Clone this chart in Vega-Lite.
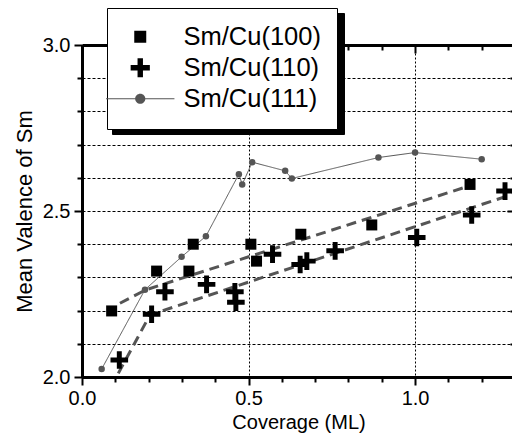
{
  "$schema": "https://vega.github.io/schema/vega-lite/v6.json",
  "width": 433,
  "height": 332,
  "autosize": {"type": "none"},
  "padding": {"left": 82, "top": 45, "right": 0, "bottom": 59},
  "background": "white",
  "config": {
    "view": {"stroke": null},
    "font": "Liberation Sans",
    "axis": {"labelFont": "Liberation Sans", "titleFont": "Liberation Sans", "titleFontWeight": "normal", "labelColor": "black", "titleColor": "black"},
    "legend": {"strokeWidth": 1}
  },
  "data": {
    "values": [
      {"s": "Sm/Cu(100)", "x": 0.089, "y": 2.199},
      {"s": "Sm/Cu(100)", "x": 0.224, "y": 2.319},
      {"s": "Sm/Cu(100)", "x": 0.321, "y": 2.319},
      {"s": "Sm/Cu(100)", "x": 0.334, "y": 2.4},
      {"s": "Sm/Cu(100)", "x": 0.507, "y": 2.4},
      {"s": "Sm/Cu(100)", "x": 0.524, "y": 2.349},
      {"s": "Sm/Cu(100)", "x": 0.657, "y": 2.43},
      {"s": "Sm/Cu(100)", "x": 0.87, "y": 2.458},
      {"s": "Sm/Cu(100)", "x": 1.165, "y": 2.58},
      {"s": "Sm/Cu(110)", "x": 0.112, "y": 2.051},
      {"s": "Sm/Cu(110)", "x": 0.209, "y": 2.189},
      {"s": "Sm/Cu(110)", "x": 0.249, "y": 2.257},
      {"s": "Sm/Cu(110)", "x": 0.374, "y": 2.279},
      {"s": "Sm/Cu(110)", "x": 0.459, "y": 2.257},
      {"s": "Sm/Cu(110)", "x": 0.462, "y": 2.225},
      {"s": "Sm/Cu(110)", "x": 0.572, "y": 2.37},
      {"s": "Sm/Cu(110)", "x": 0.655, "y": 2.339},
      {"s": "Sm/Cu(110)", "x": 0.675, "y": 2.349},
      {"s": "Sm/Cu(110)", "x": 0.76, "y": 2.38},
      {"s": "Sm/Cu(110)", "x": 1.005, "y": 2.42},
      {"s": "Sm/Cu(110)", "x": 1.17, "y": 2.488},
      {"s": "Sm/Cu(110)", "x": 1.27, "y": 2.56},
      {"s": "Sm/Cu(111)", "x": 0.059, "y": 2.024},
      {"s": "Sm/Cu(111)", "x": 0.189, "y": 2.263},
      {"s": "Sm/Cu(111)", "x": 0.299, "y": 2.362},
      {"s": "Sm/Cu(111)", "x": 0.372, "y": 2.424},
      {"s": "Sm/Cu(111)", "x": 0.471, "y": 2.611},
      {"s": "Sm/Cu(111)", "x": 0.481, "y": 2.58},
      {"s": "Sm/Cu(111)", "x": 0.511, "y": 2.647},
      {"s": "Sm/Cu(111)", "x": 0.61, "y": 2.621},
      {"s": "Sm/Cu(111)", "x": 0.63, "y": 2.598},
      {"s": "Sm/Cu(111)", "x": 0.89, "y": 2.661},
      {"s": "Sm/Cu(111)", "x": 1.0, "y": 2.676},
      {"s": "Sm/Cu(111)", "x": 1.2, "y": 2.656},
      {"s": "fit100", "x": 0.114, "y": 2.222},
      {"s": "fit100", "x": 0.19, "y": 2.262},
      {"s": "fit100", "x": 1.155, "y": 2.573},
      {"s": "fit110", "x": 0.109, "y": 2.011},
      {"s": "fit110", "x": 0.204, "y": 2.187},
      {"s": "fit110", "x": 1.3, "y": 2.553}
    ]
  },
  "layer": [
    {
      "transform": [{"filter": "datum.s == 'fit100' || datum.s == 'fit110'"}],
      "mark": {"type": "line", "color": "#555555", "strokeWidth": 3, "strokeDash": [10, 6]},
      "encoding": {
        "x": {
          "field": "x", "type": "quantitative",
          "scale": {"domain": [0, 1.3], "nice": false, "zero": false},
          "axis": {
            "orient": "top", "title": null, "labels": false, "grid": false,
            "values": [0, 0.1, 0.2, 0.3, 0.4, 0.5, 0.6, 0.7, 0.8, 0.9, 1.0, 1.1, 1.2, 1.3],
            "domainColor": "black", "domainWidth": 3, "tickColor": "black", "tickWidth": 2,
            "tickSize": {"condition": {"test": "abs(datum.value*2-round(datum.value*2))<0.001", "value": -8}, "value": -5}
          }
        },
        "y": {
          "field": "y", "type": "quantitative",
          "scale": {"domain": [2, 3], "nice": false, "zero": false},
          "axis": {
            "orient": "right", "title": null, "labels": false, "grid": false,
            "values": [2.0, 2.1, 2.2, 2.3, 2.4, 2.5, 2.6, 2.7, 2.8, 2.9, 3.0],
            "domainColor": "black", "domainWidth": 3, "tickColor": "black", "tickWidth": 2,
            "tickSize": {"condition": {"test": "abs(datum.value*2-round(datum.value*2))<0.001", "value": -8}, "value": -5}
          }
        },
        "detail": {"field": "s", "type": "nominal"}
      }
    },
    {
      "transform": [{"filter": "datum.s == 'Sm/Cu(111)'"}],
      "mark": {"type": "line", "color": "#555555", "strokeWidth": 1, "point": {"filled": true, "size": 42, "color": "#555555", "opacity": 1}},
      "encoding": {
        "x": {"field": "x", "type": "quantitative", "axis": null},
        "y": {"field": "y", "type": "quantitative", "axis": null},
        "strokeDash": {
          "field": "s", "type": "nominal",
          "scale": {"domain": ["Sm/Cu(110)", "Sm/Cu(100)", "Sm/Cu(111)"], "range": [[1, 0], [1, 0], [1, 0]]},
          "legend": {
            "orient": "none", "legendX": 30, "legendY": -32, "title": null, "zindex": 0,
            "padding": 16, "fillColor": "black", "strokeColor": "black", "cornerRadius": 0,
            "labelFont": "Liberation Sans", "labelFontSize": 25.5, "labelColor": "black",
            "labelExpr": "''",
            "symbolSize": 144, "symbolOffset": 4.5, "labelOffset": 170, "rowPadding": 4,
            "symbolStrokeColor": "black", "symbolFillColor": "black"
          }
        }
      }
    },
    {
      "transform": [{"filter": "datum.s == 'Sm/Cu(100)' || datum.s == 'Sm/Cu(110)'"}],
      "mark": {"type": "point", "filled": true, "size": 121, "opacity": 1, "strokeWidth": 0},
      "encoding": {
        "x": {
          "field": "x", "type": "quantitative",
          "axis": {
            "orient": "bottom", "title": "Coverage (ML)", "titleFontSize": 20,
            "titleX": 216.5, "titleY": 45, "titleBaseline": "middle", "titleAlign": "center",
            "values": [0, 0.1, 0.2, 0.3, 0.4, 0.5, 0.6, 0.7, 0.8, 0.9, 1.0, 1.1, 1.2, 1.3],
            "labelExpr": "abs(datum.value*2-round(datum.value*2))<0.001 ? format(datum.value, '.1f') : ''",
            "labelFontSize": 20, "labelPadding": 3, "labelFlush": false, "labelOverlap": false,
            "domainColor": "black", "domainWidth": 3, "tickColor": "black", "tickWidth": 2,
            "tickSize": {"condition": {"test": "abs(datum.value*2-round(datum.value*2))<0.001", "value": 8}, "value": 5},
            "grid": true, "gridColor": "black", "gridWidth": 1, "gridDash": [2, 2],
            "gridOpacity": {"condition": {"test": "abs(datum.value*2-round(datum.value*2))<0.001 && datum.value > 0.1", "value": 1}, "value": 0}
          }
        },
        "y": {
          "field": "y", "type": "quantitative",
          "axis": {
            "orient": "left", "title": "Mean Valence of Sm", "titleFontSize": 22,
            "titleX": -58, "titleY": 166, "titleBaseline": "middle", "titleAlign": "center", "titleAngle": -90,
            "values": [2.0, 2.1, 2.2, 2.3, 2.4, 2.5, 2.6, 2.7, 2.8, 2.9, 3.0],
            "labelExpr": "abs(datum.value*2-round(datum.value*2))<0.001 ? format(datum.value, '.1f') : ''",
            "labelFontSize": 20, "labelPadding": 4, "labelFlush": false, "labelOverlap": false,
            "domainColor": "black", "domainWidth": 3, "tickColor": "black", "tickWidth": 2,
            "tickSize": {"condition": {"test": "abs(datum.value*2-round(datum.value*2))<0.001", "value": 8}, "value": 5},
            "grid": true, "gridColor": "black", "gridWidth": 1, "gridDash": [3, 2]
          }
        },
        "shape": {
          "field": "s", "type": "nominal",
          "scale": {
            "domain": ["Sm/Cu(100)", "Sm/Cu(110)", "Sm/Cu(111)"],
            "range": [
              "square",
              "M-1.6,-0.45L-0.45,-0.45L-0.45,-1.6L0.45,-1.6L0.45,-0.45L1.6,-0.45L1.6,0.45L0.45,0.45L0.45,1.6L-0.45,1.6L-0.45,0.45L-1.6,0.45Z",
              "M-5.7,-0.09L5.7,-0.09L5.7,0.09L-5.7,0.09ZM0.85,0A0.85,0.85 0 1,1 -0.85,0A0.85,0.85 0 1,1 0.85,0Z"
            ]
          },
          "legend": {
            "orient": "none", "legendX": 25, "legendY": -37, "title": null, "zindex": 1,
            "padding": 16, "fillColor": "white", "strokeColor": "black", "cornerRadius": 0,
            "labelFont": "Liberation Sans", "labelFontSize": 25.5, "labelColor": "black",
            "symbolSize": 144, "symbolOffset": 4.5, "labelOffset": 30.5, "rowPadding": 4, "symbolStrokeWidth": 0
          }
        },
        "color": {
          "field": "s", "type": "nominal",
          "scale": {"domain": ["Sm/Cu(100)", "Sm/Cu(110)", "Sm/Cu(111)"], "range": ["black", "black", "#555555"]},
          "legend": {
            "orient": "none", "legendX": 25, "legendY": -37, "title": null, "zindex": 1,
            "padding": 16, "fillColor": "white", "strokeColor": "black", "cornerRadius": 0,
            "labelFont": "Liberation Sans", "labelFontSize": 25.5, "labelColor": "black",
            "symbolSize": 144, "symbolOffset": 4.5, "labelOffset": 30.5, "rowPadding": 4, "symbolStrokeWidth": 0
          }
        }
      }
    }
  ],
  "resolve": {"axis": {"x": "independent", "y": "independent"}}
}
